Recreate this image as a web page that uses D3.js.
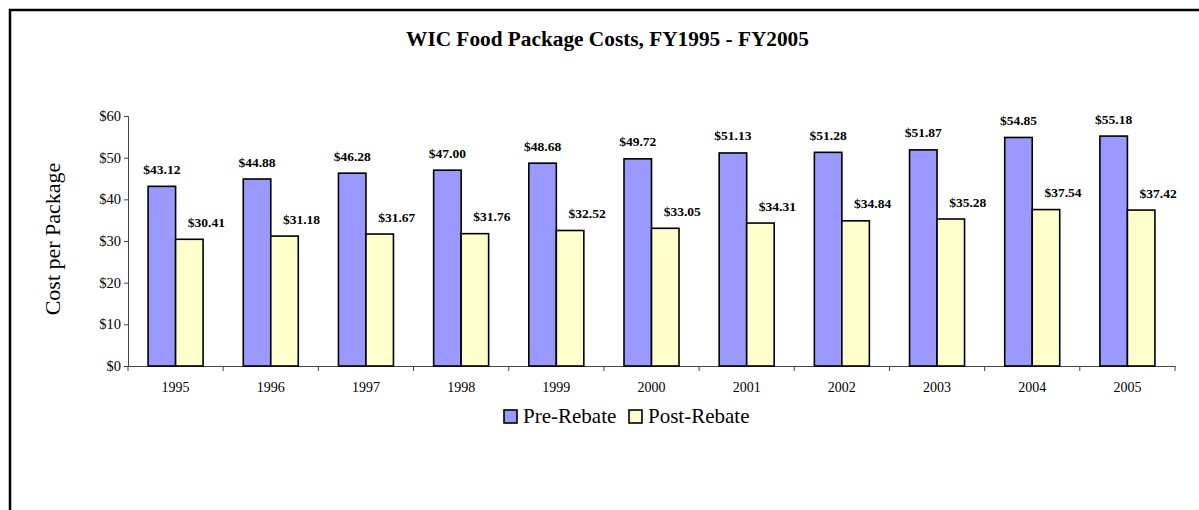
<!DOCTYPE html>
<html><head><meta charset="utf-8">
<script src="https://cdn.jsdelivr.net/npm/d3@7"></script>
<style>
html,body{margin:0;padding:0;background:#fff;overflow:hidden;}
svg{display:block;}
</style></head>
<body>
<svg id="chart" width="1199" height="510"></svg>
<script>
const years = ["1995","1996","1997","1998","1999","2000","2001","2002","2003","2004","2005"];
const preRebate = [43.12,44.88,46.28,47.00,48.68,49.72,51.13,51.28,51.87,54.85,55.18];
const postRebate = [30.41,31.18,31.67,31.76,32.52,33.05,34.31,34.84,35.28,37.54,37.42];
const seriesNames = ["Pre-Rebate","Post-Rebate"];
const seriesColors = ["#9999FF","#FFFFCC"];
const yTicks = [0,10,20,30,40,50,60];
const chartTitle = "WIC Food Package Costs, FY1995 - FY2005";
const yTitle = "Cost per Package";

(function(){
const svg = d3.select("#chart");
const font = "'Times New Roman', 'Liberation Serif', serif";

// outer border
svg.append("rect").attr("x",10).attr("y",10).attr("width",1300).attr("height",600)
  .attr("fill","none").attr("stroke","#000").attr("stroke-width",2.5);

const pLeft = 128, pRight = 1175, pTop = 116, pBottom = 366;
const x = d3.scaleBand().domain(years).range([pLeft,pRight]).paddingInner(0).paddingOuter(0);
const y = d3.scaleLinear().domain([0,60]).range([pBottom,pTop]);
const barW = 27.5;
const groupOff = (x.bandwidth() - 2*barW)/2;

svg.append("text").attr("x",607.5).attr("y",45.5).attr("text-anchor","middle")
  .attr("font-family",font).attr("font-weight","bold").attr("font-size",21.3).text(chartTitle);

svg.append("text").attr("transform","translate(60,239) rotate(-90)").attr("text-anchor","middle")
  .attr("font-family",font).attr("font-size",22).text(yTitle);

// y axis
const yAxis = svg.append("g").attr("transform",`translate(${pLeft},0)`)
  .call(d3.axisLeft(y).tickValues(yTicks).tickFormat(d=>"$"+d).tickSizeOuter(0).tickSize(4));
yAxis.select(".domain").attr("stroke","#444");
yAxis.selectAll(".tick line").attr("stroke","#444");
yAxis.selectAll("text").attr("font-family",font).attr("font-size",14.5).attr("fill","#000").attr("x",-7);

// x axis
const xAxis = svg.append("g").attr("transform",`translate(0,${pBottom})`)
  .call(d3.axisBottom(x).tickSize(0).tickSizeOuter(0));
xAxis.select(".domain").attr("stroke","#444");
xAxis.selectAll("text").attr("font-family",font).attr("font-size",14).attr("fill","#000")
  .attr("y",26).attr("dy",0);
// boundary ticks
svg.append("g").selectAll("line").data(years.concat(["end"])).join("line")
  .attr("x1",(d,i)=> i<years.length ? x(d) : pRight)
  .attr("x2",(d,i)=> i<years.length ? x(d) : pRight)
  .attr("y1",pBottom).attr("y2",pBottom+5).attr("stroke","#444");

const series = [preRebate, postRebate];
series.forEach((vals,si)=>{
  const g = svg.append("g");
  g.selectAll("rect").data(vals).join("rect")
    .attr("x",(d,i)=> x(years[i]) + groupOff + si*barW)
    .attr("y",d=>y(d)).attr("width",barW).attr("height",d=>pBottom-y(d))
    .attr("fill",seriesColors[si]).attr("stroke","#000").attr("stroke-width",1.6);
  g.selectAll("text").data(vals).join("text")
    .attr("x",(d,i)=> x(years[i]) + groupOff + si*barW + barW/2 + (si===1?17:0))
    .attr("y",d=>y(d)-12.5)
    .attr("text-anchor","middle").attr("font-family",font).attr("font-weight","bold")
    .attr("font-size",13.5).text(d=>"$"+d.toFixed(2));
});

// legend
const legendItems = [{x:504,tx:523},{x:629,tx:648}];
seriesNames.forEach((n,i)=>{
  svg.append("rect").attr("x",legendItems[i].x).attr("y",410).attr("width",13).attr("height",13)
    .attr("fill",seriesColors[i]).attr("stroke","#000").attr("stroke-width",1.6);
  svg.append("text").attr("x",legendItems[i].tx).attr("y",423).attr("font-family",font)
    .attr("font-size",21).text(n);
});
})();
</script>
</body></html>
